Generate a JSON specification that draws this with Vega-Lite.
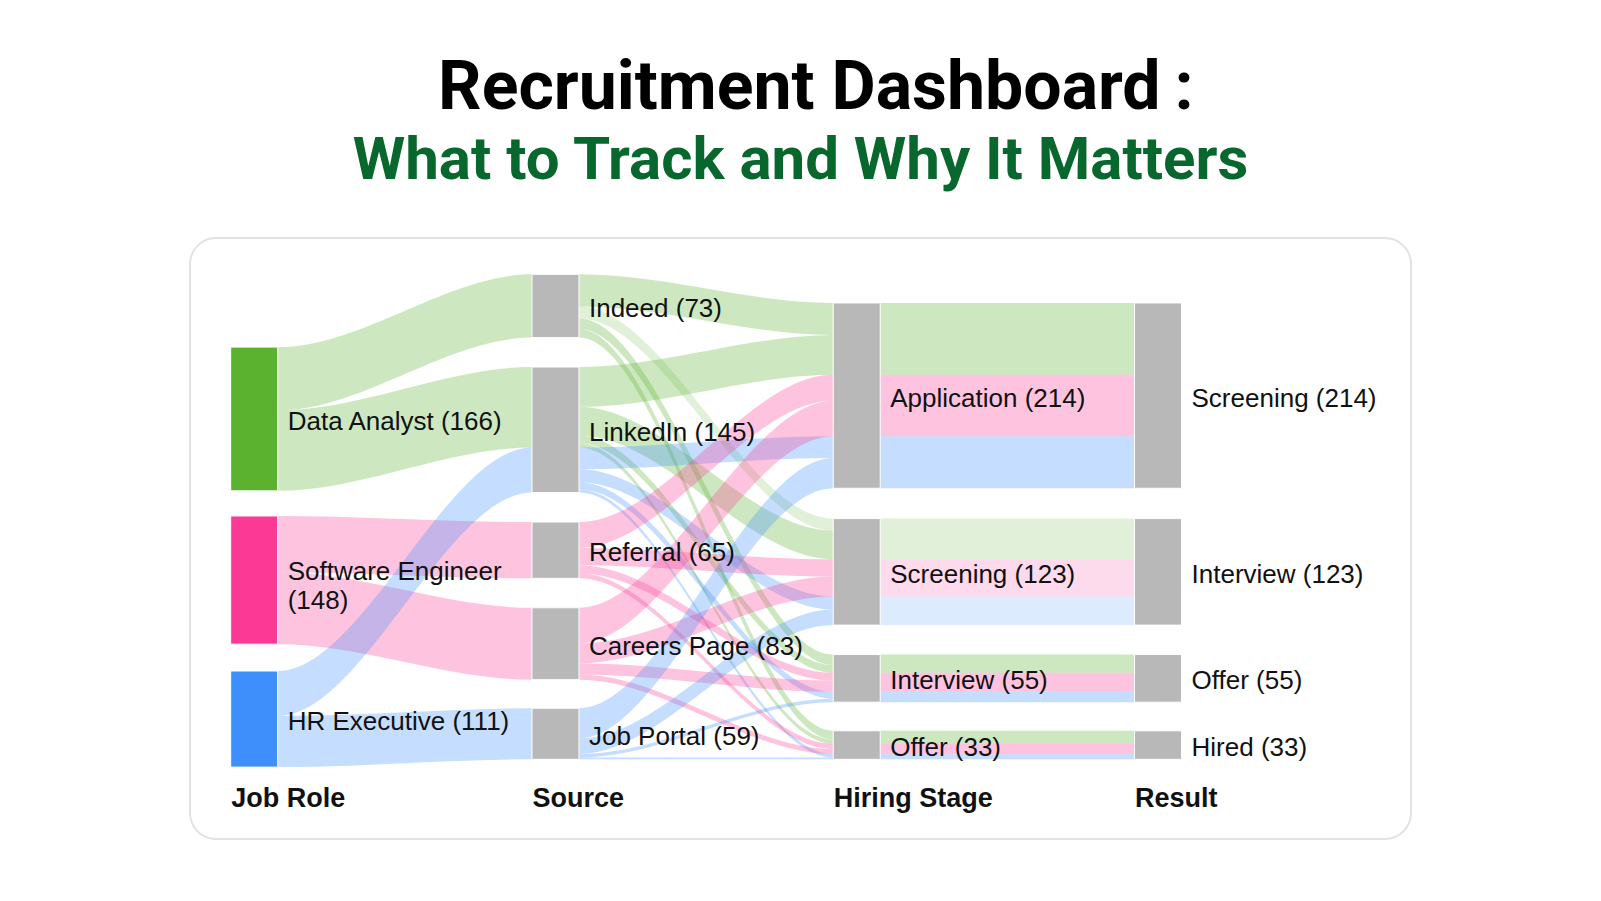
{
  "$schema": "https://vega.github.io/schema/vega-lite/v6.json",
  "width": 1221,
  "height": 601,
  "autosize": {"type": "none"},
  "padding": {"left": 190, "top": 238, "right": 190, "bottom": 62},
  "background": "white",
  "title": {
    "text": "\u200b\u00a0\u2009Recruitment Dashboard\u2009:",
    "subtitle": "What to Track and Why It Matters",
    "anchor": "middle",
    "frame": "group",
    "font": "Roboto",
    "fontSize": 68,
    "fontWeight": "bold",
    "color": "#000000",
    "subtitleFont": "Roboto",
    "subtitleFontSize": 60,
    "subtitleFontWeight": "bold",
    "subtitleColor": "#08672d",
    "subtitlePadding": 9,
    "offset": 47
  },
  "datasets": {
    "nodes": [
      {"id": "Data Analyst", "name": "Data Analyst", "col": 0, "value": 166, "top": 126, "label": "Data Analyst (166)"},
      {"id": "Software Engineer", "name": "Software Engineer", "col": 0, "value": 148, "top": 321, "label": "Software Engineer\n(148)"},
      {"id": "HR Executive", "name": "HR Executive", "col": 0, "value": 111, "top": 500, "label": "HR Executive (111)"},
      {"id": "Indeed", "name": "Indeed", "col": 1, "value": 73, "top": 42, "label": "Indeed (73)"},
      {"id": "LinkedIn", "name": "LinkedIn", "col": 1, "value": 145, "top": 149, "label": "LinkedIn (145)"},
      {"id": "Referral", "name": "Referral", "col": 1, "value": 65, "top": 328, "label": "Referral (65)"},
      {"id": "Careers Page", "name": "Careers Page", "col": 1, "value": 83, "top": 427, "label": "Careers Page (83)"},
      {"id": "Job Portal", "name": "Job Portal", "col": 1, "value": 59, "top": 543, "label": "Job Portal (59)"},
      {"id": "Application", "name": "Application", "col": 2, "value": 214, "top": 75, "label": "Application (214)"},
      {"id": "Screening", "name": "Screening", "col": 2, "value": 123, "top": 324, "label": "Screening (123)"},
      {"id": "Interview", "name": "Interview", "col": 2, "value": 55, "top": 481, "label": "Interview (55)"},
      {"id": "Offer", "name": "Offer", "col": 2, "value": 33, "top": 569, "label": "Offer (33)"},
      {"id": "Result: Screening", "name": "Screening", "col": 3, "value": 214, "top": 75, "label": "Screening (214)"},
      {"id": "Result: Interview", "name": "Interview", "col": 3, "value": 123, "top": 324, "label": "Interview (123)"},
      {"id": "Result: Offer", "name": "Offer", "col": 3, "value": 55, "top": 481, "label": "Offer (55)"},
      {"id": "Hired", "name": "Hired", "col": 3, "value": 33, "top": 569, "label": "Hired (33)"}
    ],
    "links": [
      {"s": "Data Analyst", "t": "Indeed", "role": "Data Analyst", "v": 73},
      {"s": "Data Analyst", "t": "LinkedIn", "role": "Data Analyst", "v": 93},
      {"s": "Software Engineer", "t": "Referral", "role": "Software Engineer", "v": 65},
      {"s": "Software Engineer", "t": "Careers Page", "role": "Software Engineer", "v": 83},
      {"s": "HR Executive", "t": "LinkedIn", "role": "HR Executive", "v": 52},
      {"s": "HR Executive", "t": "Job Portal", "role": "HR Executive", "v": 59},
      {"s": "Indeed", "t": "Application", "role": "Data Analyst", "v": 37},
      {"s": "Indeed", "t": "Screening", "role": "Data Analyst", "v": 14},
      {"s": "Indeed", "t": "Interview", "role": "Data Analyst", "v": 12},
      {"s": "Indeed", "t": "Offer", "role": "Data Analyst", "v": 10},
      {"s": "LinkedIn", "t": "Application", "role": "Data Analyst", "v": 46},
      {"s": "LinkedIn", "t": "Screening", "role": "Data Analyst", "v": 33},
      {"s": "LinkedIn", "t": "Interview", "role": "Data Analyst", "v": 9},
      {"s": "LinkedIn", "t": "Offer", "role": "Data Analyst", "v": 5},
      {"s": "LinkedIn", "t": "Application", "role": "HR Executive", "v": 25},
      {"s": "LinkedIn", "t": "Screening", "role": "HR Executive", "v": 15},
      {"s": "LinkedIn", "t": "Interview", "role": "HR Executive", "v": 8},
      {"s": "LinkedIn", "t": "Offer", "role": "HR Executive", "v": 4},
      {"s": "Referral", "t": "Application", "role": "Software Engineer", "v": 30},
      {"s": "Referral", "t": "Screening", "role": "Software Engineer", "v": 20},
      {"s": "Referral", "t": "Interview", "role": "Software Engineer", "v": 9},
      {"s": "Referral", "t": "Offer", "role": "Software Engineer", "v": 6},
      {"s": "Careers Page", "t": "Application", "role": "Software Engineer", "v": 41},
      {"s": "Careers Page", "t": "Screening", "role": "Software Engineer", "v": 23},
      {"s": "Careers Page", "t": "Interview", "role": "Software Engineer", "v": 13},
      {"s": "Careers Page", "t": "Offer", "role": "Software Engineer", "v": 6},
      {"s": "Job Portal", "t": "Application", "role": "HR Executive", "v": 35},
      {"s": "Job Portal", "t": "Screening", "role": "HR Executive", "v": 18},
      {"s": "Job Portal", "t": "Interview", "role": "HR Executive", "v": 4},
      {"s": "Job Portal", "t": "Offer", "role": "HR Executive", "v": 2},
      {"s": "Application", "t": "Result: Screening", "role": "Data Analyst", "v": 83},
      {"s": "Application", "t": "Result: Screening", "role": "Software Engineer", "v": 71},
      {"s": "Application", "t": "Result: Screening", "role": "HR Executive", "v": 60},
      {"s": "Screening", "t": "Result: Interview", "role": "Data Analyst", "v": 47},
      {"s": "Screening", "t": "Result: Interview", "role": "Software Engineer", "v": 43},
      {"s": "Screening", "t": "Result: Interview", "role": "HR Executive", "v": 33},
      {"s": "Interview", "t": "Result: Offer", "role": "Data Analyst", "v": 21},
      {"s": "Interview", "t": "Result: Offer", "role": "Software Engineer", "v": 22},
      {"s": "Interview", "t": "Result: Offer", "role": "HR Executive", "v": 12},
      {"s": "Offer", "t": "Hired", "role": "Data Analyst", "v": 15},
      {"s": "Offer", "t": "Hired", "role": "Software Engineer", "v": 12},
      {"s": "Offer", "t": "Hired", "role": "HR Executive", "v": 6}
    ]
  },
  "layer": [
    {
      "data": {"name": "links"},
      "transform": [
        {"lookup": "s", "from": {"data": {"name": "nodes"}, "key": "id", "fields": ["col", "top"]}, "as": ["scol", "stop"]},
        {"lookup": "t", "from": {"data": {"name": "nodes"}, "key": "id", "fields": ["top"]}, "as": ["ttop"]},
        {"lookup": "role", "from": {"data": {"name": "nodes"}, "key": "id", "fields": ["top"]}, "as": ["rtop"]},
        {"window": [{"op": "sum", "field": "v", "as": "cs"}], "groupby": ["s"], "sort": [{"field": "rtop"}, {"field": "ttop"}], "frame": [null, 0], "ignorePeers": true},
        {"window": [{"op": "sum", "field": "v", "as": "ct"}], "groupby": ["t"], "sort": [{"field": "rtop"}, {"field": "stop"}], "frame": [null, 0], "ignorePeers": true},
        {"calculate": "datum.s + '>' + datum.t + '>' + datum.role", "as": "lid"},
        {"calculate": "[0, 1, 2, 3]", "as": "pts"},
        {"flatten": ["pts"], "as": ["p"]},
        {"calculate": "datum.scol + [0, 0.078, 0.922, 1][datum.p]", "as": "lx"},
        {"calculate": "datum.p < 2 ? datum.stop + datum.cs - datum.v : datum.ttop + datum.ct - datum.v", "as": "ya"},
        {"calculate": "datum.p < 2 ? datum.stop + datum.cs : datum.ttop + datum.ct", "as": "yb"}
      ],
      "mark": {"type": "area", "interpolate": "monotone", "orient": "vertical"},
      "encoding": {
        "x": {"field": "lx", "type": "quantitative", "scale": {"domain": [-0.2131, 3.8397], "nice": false, "zero": false, "padding": 0},
          "axis": {"values": [0, 1, 2, 3], "labelExpr": "['Job Role', 'Source', 'Hiring Stage', 'Result'][datum.value]", "domain": false, "ticks": false, "grid": false, "title": null, "labelAlign": "left", "labelOffset": -23.5, "labelBaseline": "alphabetic", "labelPadding": 0, "offset": -33, "labelFont": "Liberation Sans", "labelFontSize": 27, "labelFontWeight": "bold", "labelColor": "#111111", "labelFlush": false, "labelOverlap": false, "labelBound": false}},
        "y": {"field": "ya", "type": "quantitative", "stack": null, "scale": {"domain": [0, 694], "reverse": true, "nice": false, "zero": false, "padding": 0}, "axis": null},
        "y2": {"field": "yb"},
        "detail": {"field": "lid"},
        "color": {"field": "role", "type": "nominal", "scale": {"domain": ["Data Analyst", "Software Engineer", "HR Executive"], "range": ["#5bb22f", "#fc3a96", "#3e8efb"]}, "legend": null},
        "opacity": {"condition": {"test": "(datum.scol == 2 && datum.t == 'Result: Interview') || (datum.s == 'Indeed' && datum.t == 'Screening')", "value": 0.18}, "value": 0.3}
      }
    },
    {
      "data": {"name": "nodes"},
      "transform": [{"calculate": "datum.top + datum.value", "as": "bot"}],
      "mark": {"type": "bar", "width": 47, "orient": "vertical", "stroke": "white", "strokeWidth": 1},
      "encoding": {
        "x": {"field": "col", "type": "quantitative", "scale": {"domain": [-0.2131, 3.8397], "nice": false, "zero": false, "padding": 0},
          "axis": {"values": [0, 1, 2, 3], "labelExpr": "['Job Role', 'Source', 'Hiring Stage', 'Result'][datum.value]", "domain": false, "ticks": false, "grid": false, "title": null, "labelAlign": "left", "labelOffset": -23.5, "labelBaseline": "alphabetic", "labelPadding": 0, "offset": -33, "labelFont": "Liberation Sans", "labelFontSize": 27, "labelFontWeight": "bold", "labelColor": "#111111", "labelFlush": false, "labelOverlap": false, "labelBound": false}},
        "y": {"field": "top", "type": "quantitative", "stack": null, "scale": {"domain": [0, 694], "reverse": true, "nice": false, "zero": false, "padding": 0}, "axis": null},
        "y2": {"field": "bot"},
        "color": {"condition": {"test": "datum.col == 0", "field": "name", "type": "nominal", "scale": {"domain": ["Data Analyst", "Software Engineer", "HR Executive"], "range": ["#5bb22f", "#fc3a96", "#3e8efb"]}, "legend": null}, "value": "#b8b8b8"}
      }
    },
    {
      "data": {"name": "nodes"},
      "transform": [
        {"calculate": "length(split(datum.label, '\\n'))", "as": "lines"},
        {"calculate": "datum.top + datum.value / 2 - 13 * (datum.lines - 1)", "as": "mid"}
      ],
      "mark": {"type": "text", "align": "left", "baseline": "middle", "dx": 33.5, "dy": 3, "font": "Liberation Sans", "fontSize": 26, "lineBreak": "\n", "lineHeight": 29.5, "color": "#111111"},
      "encoding": {
        "x": {"field": "col", "type": "quantitative", "scale": {"domain": [-0.2131, 3.8397], "nice": false, "zero": false, "padding": 0},
          "axis": {"values": [0, 1, 2, 3], "labelExpr": "['Job Role', 'Source', 'Hiring Stage', 'Result'][datum.value]", "domain": false, "ticks": false, "grid": false, "title": null, "labelAlign": "left", "labelOffset": -23.5, "labelBaseline": "alphabetic", "labelPadding": 0, "offset": -33, "labelFont": "Liberation Sans", "labelFontSize": 27, "labelFontWeight": "bold", "labelColor": "#111111", "labelFlush": false, "labelOverlap": false, "labelBound": false}},
        "y": {"field": "mid", "type": "quantitative", "scale": {"domain": [0, 694], "reverse": true, "nice": false, "zero": false, "padding": 0}, "axis": null},
        "text": {"field": "label", "type": "nominal"}
      }
    }
  ],
  "config": {
    "font": "Liberation Sans",
    "view": {"stroke": "#e2e2e2", "strokeWidth": 2, "cornerRadius": 26, "fill": "white"}
  }
}
